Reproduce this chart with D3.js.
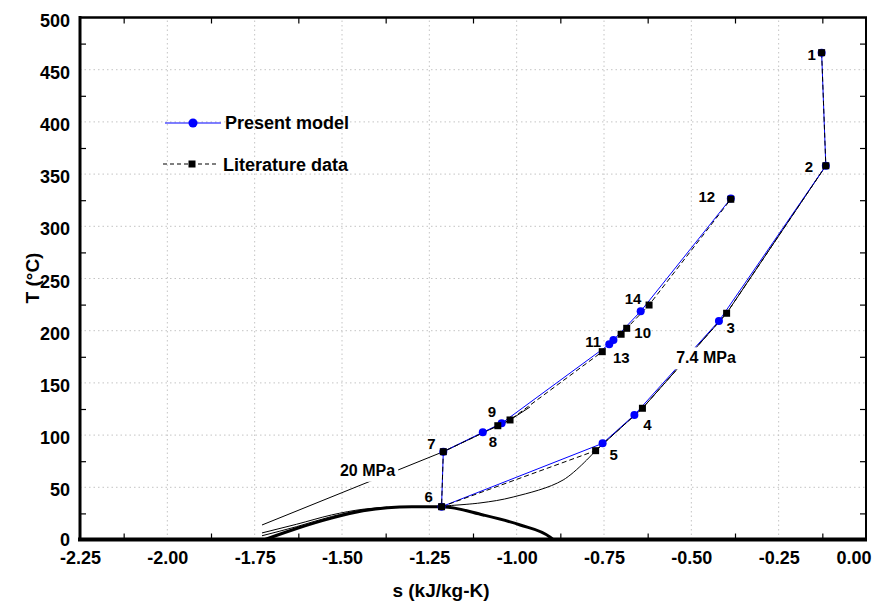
<!DOCTYPE html>
<html>
<head>
<meta charset="utf-8">
<script src="https://cdn.jsdelivr.net/npm/d3@7"></script>
<style>
  body { margin: 0; background: #fff; }
  text { font-family: 'Liberation Sans', Arial, sans-serif; font-weight: bold; }
</style>
</head>
<body>
<svg id="chart" width="876" height="602"></svg>
<script>
// cycle state points, literature data (black squares)
const litNames = ['1', '2', '3', '4', '5', '6', '7', '8', '9', '13', '11', '10', '14', '12']
const litS = [-0.127, -0.115, -0.399, -0.640, -0.774, -1.215, -1.210, -1.054, -1.019, -0.755, -0.701, -0.685, -0.621, -0.387]
const litT = [466.3, 358.0, 216.7, 125.7, 85.1, 31.4, 84.1, 109.0, 114.5, 179.9, 196.6, 202.3, 224.6, 325.9]

// present model (blue circles)
const modelS = [-0.127, -0.115, -0.421, -0.663, -0.754, -1.215, -1.210, -1.097, -1.043, -0.735, -0.723, -0.645, -0.387]
const modelT = [466.3, 358.0, 209.3, 119.3, 92.1, 31.4, 84.1, 102.7, 111.3, 187.0, 191.1, 218.6, 326.6]

// saturation dome
const domeS = [-1.72, -1.63, -1.53, -1.44, -1.37, -1.30, -1.215, -1.096, -0.990, -0.905, -0.896]
const domeT = [0, 10.5, 20.5, 27.5, 30.5, 31.4, 31.4, 23.5, 13.9, 2.4, 0]

// compressed-liquid isobar traces near the dome
const liqAS = [-1.729, -1.63, -1.53, -1.44, -1.37]
const liqAT = [6.3, 14.6, 23.5, 29.0, 31.0]
const liqBS = [-1.729, -1.63, -1.53, -1.44, -1.37]
const liqBT = [3.6, 12.3, 22.0, 28.3, 30.8]

// isobars
const p20S = [-1.729, -1.210, -1.054, -1.019, -0.962]
const p20T = [13.9, 84.1, 109.0, 114.5, 126.9]
// 7.4 MPa: curved part from 6 to 5, then straight through 4, 3, 2
const p74CurveS = [-1.211, -1.105, -1.010, -0.867, -0.774]
const p74CurveT = [32.1, 35.0, 40.7, 57.0, 85.1]
const p74LineS = [-0.774, -0.640, -0.399, -0.115]
const p74LineT = [85.1, 125.7, 216.7, 358.0]

const xTicks = [-2.25, -2.0, -1.75, -1.5, -1.25, -1.0, -0.75, -0.5, -0.25, 0]
const yTicks = [0, 50, 100, 150, 200, 250, 300, 350, 400, 450, 500]

const zip = (a, b) => a.map((v, i) => [v, b[i]])

let svg = d3.select('#chart')

let x = d3.scaleLinear().domain([-2.25, 0]).range([80, 866])
let y = d3.scaleLinear().domain([0, 500]).range([539.5, 17.5])

// grid
svg.append('g')
  .selectAll('line')
  .data(xTicks.slice(1, -1))
  .enter()
  .append('line')
  .attr('x1', d => x(d)).attr('x2', d => x(d))
  .attr('y1', y(0)).attr('y2', y(500))
  .attr('stroke', '#c4c4c4').attr('stroke-dasharray', '1.5,3')

svg.append('g')
  .selectAll('line')
  .data(yTicks.slice(1, -1))
  .enter()
  .append('line')
  .attr('y1', d => y(d)).attr('y2', d => y(d))
  .attr('x1', x(-2.25)).attr('x2', x(0))
  .attr('stroke', '#c4c4c4').attr('stroke-dasharray', '1.5,3')

// minor ticks (inward, all sides)
let xMinor = xTicks.slice(0, -1).map(d => d + 0.125)
let yMinor = yTicks.slice(0, -1).map(d => d + 25)

function minor(axis) {
  return g => {
    g.call(axis)
    g.select('.domain').remove()
    g.selectAll('text').remove()
    g.selectAll('line').attr('stroke', '#000').attr('stroke-width', 1.2)
  }
}
svg.append('g').attr('transform', `translate(0,${y(0)})`)
  .call(minor(d3.axisBottom(x).tickValues(xMinor).tickSize(-6)))
svg.append('g').attr('transform', `translate(0,${y(500)})`)
  .call(minor(d3.axisTop(x).tickValues(xMinor).tickSize(-6)))
svg.append('g').attr('transform', `translate(${x(-2.25)},0)`)
  .call(minor(d3.axisLeft(y).tickValues(yMinor).tickSize(-6)))
svg.append('g').attr('transform', `translate(${x(0)},0)`)
  .call(minor(d3.axisRight(y).tickValues(yMinor).tickSize(-6)))

// tick labels
let xAxis = svg.append('g')
  .attr('transform', `translate(0,${y(0)})`)
  .call(d3.axisBottom(x).tickValues(xTicks).tickFormat(d => d.toFixed(2)).tickSize(0).tickPadding(12))
xAxis.select('.domain').remove()
xAxis.selectAll('text').attr('font-size', 18).attr('fill', '#000')
// keep the last label inside the frame
xAxis.selectAll('.tick').filter(d => d === 0).select('text')
  .attr('text-anchor', 'end').attr('x', 5)

let yAxis = svg.append('g')
  .attr('transform', `translate(${x(-2.25)},0)`)
  .call(d3.axisLeft(y).tickValues(yTicks).tickFormat(d => d).tickSize(0).tickPadding(10))
yAxis.select('.domain').remove()
yAxis.selectAll('text').attr('font-size', 18).attr('fill', '#000').attr('dy', '0.48em')
yAxis.selectAll('.tick').filter(d => d === 0).select('text').attr('dy', '0.36em')

// axis titles
svg.append('text')
  .text('s (kJ/kg-K)')
  .attr('x', 441).attr('y', 597)
  .attr('text-anchor', 'middle')
  .attr('font-size', 19)

svg.append('text')
  .text('T (°C)')
  .attr('transform', 'translate(39,278) rotate(-90)')
  .attr('text-anchor', 'middle')
  .attr('font-size', 19)

// dome and isobars
let line = d3.line().x(d => x(d[0])).y(d => y(d[1]))
let smooth = d3.line().x(d => x(d[0])).y(d => y(d[1])).curve(d3.curveMonotoneX)
let spline = d3.line().x(d => x(d[0])).y(d => y(d[1])).curve(d3.curveCatmullRom.alpha(0.5))

svg.append('path').attr('d', smooth(zip(domeS, domeT)))
  .attr('fill', 'none').attr('stroke', '#000').attr('stroke-width', 3)
svg.append('path').attr('d', smooth(zip(liqAS, liqAT)))
  .attr('fill', 'none').attr('stroke', '#000').attr('stroke-width', 1)
svg.append('path').attr('d', smooth(zip(liqBS, liqBT)))
  .attr('fill', 'none').attr('stroke', '#000').attr('stroke-width', 1)
svg.append('path').attr('d', line(zip(p20S, p20T)))
  .attr('fill', 'none').attr('stroke', '#000').attr('stroke-width', 1)
svg.append('path').attr('d', spline(zip(p74CurveS, p74CurveT)))
  .attr('fill', 'none').attr('stroke', '#000').attr('stroke-width', 1)
svg.append('path').attr('d', line(zip(p74LineS, p74LineT)))
  .attr('fill', 'none').attr('stroke', '#000').attr('stroke-width', 1)

// model line and literature dashed line
svg.append('path').attr('d', line(zip(modelS, modelT)))
  .attr('fill', 'none').attr('stroke', '#0000ff').attr('stroke-width', 1)
svg.append('path').attr('d', line(zip(litS, litT)))
  .attr('fill', 'none').attr('stroke', '#000').attr('stroke-width', 1)
  .attr('stroke-dasharray', '5,3')

// pressure labels with white backing
function boxedLabel(txt, px, py) {
  let g = svg.append('g')
  let t = g.append('text').text(txt)
    .attr('x', px).attr('y', py).attr('dy', '0.36em')
    .attr('text-anchor', 'middle').attr('font-size', 16)
  let b = t.node().getBBox()
  g.insert('rect', 'text')
    .attr('x', b.x - 3).attr('y', b.y - 2)
    .attr('width', b.width + 6).attr('height', b.height + 5)
    .attr('fill', '#fff')
}
boxedLabel('20 MPa', 367.5, 470)
boxedLabel('7.4 MPa', 706, 357.5)

svg.selectAll('.model')
  .data(zip(modelS, modelT))
  .enter()
  .append('circle')
  .attr('class', 'model')
  .attr('cx', d => x(d[0])).attr('cy', d => y(d[1]))
  .attr('r', 4).attr('fill', '#0000ff')

svg.selectAll('.lit')
  .data(zip(litS, litT))
  .enter()
  .append('rect')
  .attr('class', 'lit')
  .attr('x', d => x(d[0]) - 3.5).attr('y', d => y(d[1]) - 3.5)
  .attr('width', 7).attr('height', 7).attr('fill', '#000')

// state point labels, offset from literature squares
let labelOffset = {
  '1': [-10, 2], '2': [-17, 1], '3': [4, 14], '4': [5, 16], '5': [18, 4],
  '6': [-13, -10], '7': [-12, -8], '8': [-5, 16], '9': [-18, -8],
  '13': [19, 6], '11': [-28, 7], '10': [16, 4], '14': [-16, -6], '12': [-24, -3]
}
svg.selectAll('.plabel')
  .data(litNames)
  .enter()
  .append('text')
  .attr('class', 'plabel')
  .text(d => d)
  .attr('x', (d, i) => x(litS[i]) + labelOffset[d][0])
  .attr('y', (d, i) => y(litT[i]) + labelOffset[d][1])
  .attr('dy', '0.36em')
  .attr('text-anchor', 'middle')
  .attr('font-size', 15)

// frame
svg.append('line').attr('x1', 80).attr('x2', 80).attr('y1', 16).attr('y2', 541)
  .attr('stroke', '#000').attr('stroke-width', 3)
svg.append('line').attr('x1', 78).attr('x2', 867).attr('y1', 539.5).attr('y2', 539.5)
  .attr('stroke', '#000').attr('stroke-width', 4)
svg.append('line').attr('x1', 79).attr('x2', 867).attr('y1', 17.5).attr('y2', 17.5)
  .attr('stroke', '#000').attr('stroke-width', 2.5)
svg.append('line').attr('x1', 866).attr('x2', 866).attr('y1', 17).attr('y2', 541)
  .attr('stroke', '#000').attr('stroke-width', 2)

// legend
let legend = svg.append('g')
legend.append('line').attr('x1', 165).attr('x2', 221).attr('y1', 123).attr('y2', 123)
  .attr('stroke', '#0000ff').attr('stroke-width', 1.2)
legend.append('circle').attr('cx', 193).attr('cy', 123).attr('r', 4.5).attr('fill', '#0000ff')
legend.append('text').text('Present model')
  .attr('x', 225).attr('y', 123).attr('dy', '0.36em').attr('font-size', 18)

legend.append('line').attr('x1', 163).attr('x2', 217).attr('y1', 164).attr('y2', 164)
  .attr('stroke', '#000').attr('stroke-width', 1.2).attr('stroke-dasharray', '4,3')
legend.append('rect').attr('x', 188.5).attr('y', 160.5).attr('width', 7).attr('height', 7).attr('fill', '#000')
legend.append('text').text('Literature data')
  .attr('x', 223).attr('y', 165).attr('dy', '0.36em').attr('font-size', 18)
</script>
</body>
</html>
